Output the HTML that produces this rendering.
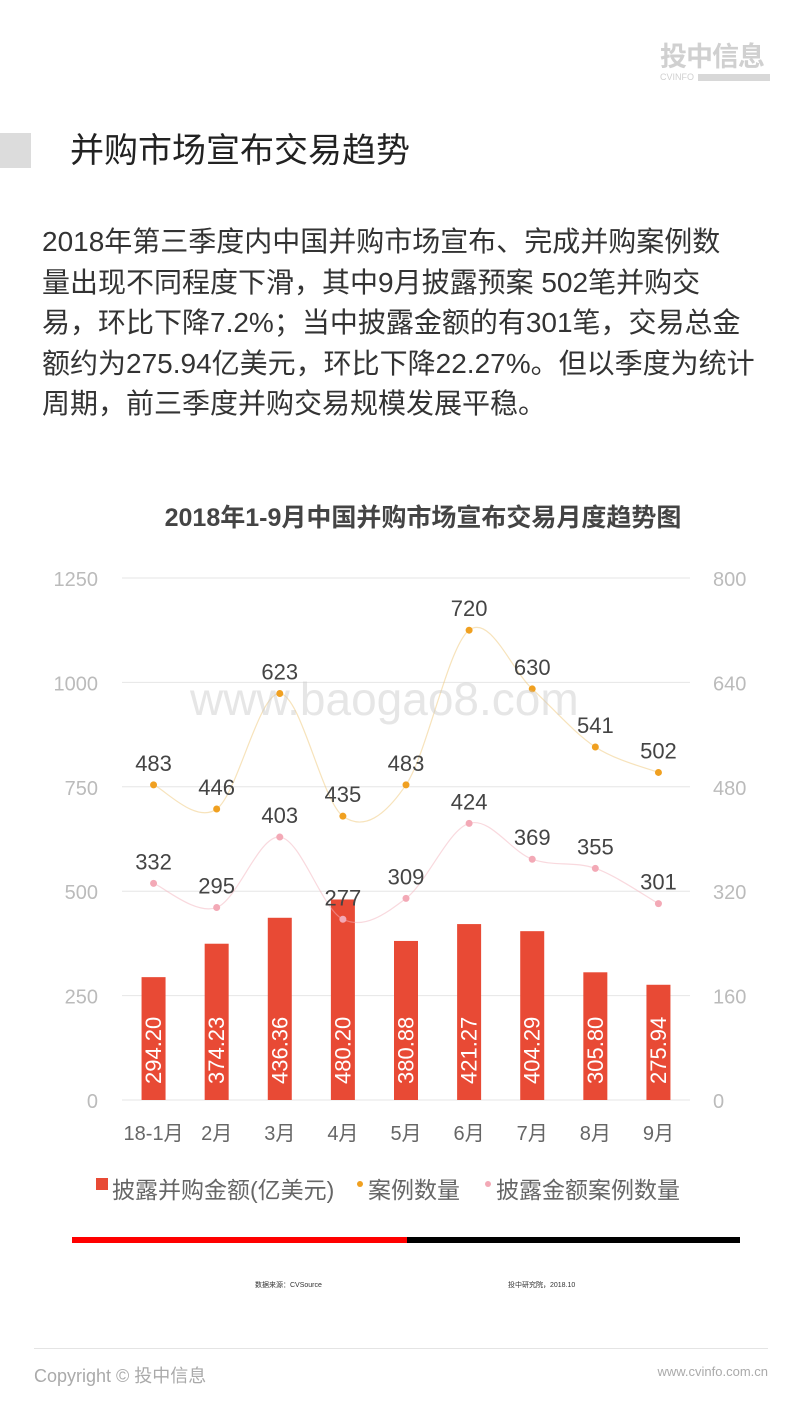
<!DOCTYPE html>
<html><head><meta charset="utf-8"><style>
body{margin:0;width:800px;height:1422px;background:#fff;font-family:"Liberation Sans","Noto Sans CJK SC",sans-serif;position:relative;overflow:hidden}
.abs{position:absolute}
</style></head><body>
<div class="abs" style="left:660px;top:42px;width:110px;color:#d0d0d0">
<div style="font-size:27px;font-weight:bold;line-height:30px;letter-spacing:-1px">投中信息</div>
<div style="font-size:9px;line-height:10px;display:flex;align-items:center">CVINFO<span style="display:inline-block;flex:1;height:7px;background:#d8d8d8;margin-left:4px"></span></div>
</div>
<div class="abs" style="left:0;top:133px;width:31px;height:35px;background:#dcdcdc"></div>
<div class="abs" style="left:70px;top:130px;font-size:34px;color:#222;line-height:42px">并购市场宣布交易趋势</div>
<div class="abs" style="left:42px;top:222px;width:740px;font-size:28px;line-height:40.5px;color:#333;white-space:nowrap">2018年第三季度内中国并购市场宣布、完成并购案例数<br>量出现不同程度下滑，其中9月披露预案 502笔并购交<br>易，环比下降7.2%；当中披露金额的有301笔，交易总金<br>额约为275.94亿美元，环比下降22.27%。但以季度为统计<br>周期，前三季度并购交易规模发展平稳。</div>
<div class="abs" style="left:0;width:846px;text-align:center;top:498px;font-size:25px;font-weight:bold;color:#444">2018年1-9月中国并购市场宣布交易月度趋势图</div>
<svg class="abs" style="left:0;top:0" width="800" height="1422" id="chart"></svg>
<div class="abs" style="left:190px;top:672px;font-size:46px;color:rgba(200,200,200,0.45)">www.baogao8.com</div>
<div class="abs" style="left:72px;top:1237px;width:335px;height:6px;background:#f00"></div>
<div class="abs" style="left:407px;top:1237px;width:333px;height:6px;background:#000"></div>
<div class="abs" style="left:255px;top:1280px;font-size:7px;color:#333">数据来源：CVSource</div>
<div class="abs" style="left:508px;top:1280px;font-size:7px;color:#333">投中研究院，2018.10</div>
<div class="abs" style="left:34px;top:1348px;width:734px;height:1px;background:#e4e4e4"></div>
<div class="abs" style="left:34px;top:1362px;font-size:18px;color:#aaa">Copyright © 投中信息</div>
<div class="abs" style="right:32px;top:1364px;font-size:13px;color:#aaa">www.cvinfo.com.cn</div>
<script>
const categories=["18-1月","2月","3月","4月","5月","6月","7月","8月","9月"];
const amounts=[294.20,374.23,436.36,480.20,380.88,421.27,404.29,305.80,275.94];
const cases=[483,446,623,435,483,720,630,541,502];
const disclosed=[332,295,403,277,309,424,369,355,301];
const leftTicks=[0,250,500,750,1000,1250];
const rightTicks=[0,160,320,480,640,800];
const svg=document.getElementById('chart');const NS='http://www.w3.org/2000/svg';
const y0=1100,h=522,x0=122,x1=690;
const yL=v=>y0-v/1250*h, yR=v=>y0-v/800*h;
const xC=i=>x0+(x1-x0)/9*(i+0.5);
function mk(t,a,p){const e=document.createElementNS(NS,t);for(const k in a)e.setAttribute(k,a[k]);(p||svg).appendChild(e);return e;}
leftTicks.forEach((v,i)=>{
 const l=mk('line',{x1:x0,x2:x1,y1:yL(v),y2:yL(v),stroke:'#e6e6e6','stroke-width':1});
 
 
 const t=mk('text',{x:98,y:yL(v)+8,'text-anchor':'end','font-size':20,fill:'#bbb'});t.textContent=v;
 
 
 const r=mk('text',{x:713,y:yR(rightTicks[i])+8,'font-size':20,fill:'#bbb'});r.textContent=rightTicks[i];
 
 
});
function smooth(pts){let d='M'+pts[0][0]+','+pts[0][1];for(let i=0;i<pts.length-1;i++){const p0=pts[i-1]||pts[i],p1=pts[i],p2=pts[i+1],p3=pts[i+2]||p2;const c1=[p1[0]+(p2[0]-p0[0])/6,p1[1]+(p2[1]-p0[1])/6],c2=[p2[0]-(p3[0]-p1[0])/6,p2[1]-(p3[1]-p1[1])/6];d+=` C${c1} ${c2} ${p2}`;}return d;}
categories.forEach((c,i)=>{
 const b=mk('rect',{x:xC(i)-12,y:yL(amounts[i]),width:24,height:y0-yL(amounts[i]),fill:'#e84a35'});
 
 
 const cx=xC(i),cy=y0-16;
 const t=mk('text',{x:cx,y:cy,transform:`rotate(-90 ${cx} ${cy})`,'font-size':22,fill:'#fff','dominant-baseline':'central'});t.textContent=amounts[i].toFixed(2);
 
 
 const xl=mk('text',{x:cx,y:1140,'text-anchor':'middle','font-size':20,fill:'#666'});xl.textContent=c;
 
 
});
[[cases,'#f0a020','rgba(240,200,120,0.5)','case'],[disclosed,'#f3a9b6','rgba(243,180,190,0.5)','disclosed']].forEach(([arr,col,lc,nm])=>{
 const pts=arr.map((v,i)=>[xC(i),yR(v)]);
 const p=mk('path',{d:smooth(pts),fill:'none',stroke:lc,'stroke-width':1.2});
 
 
 pts.forEach((q,i)=>{
  const d=mk('circle',{cx:q[0],cy:q[1],r:3.5,fill:col});
  
  
  const t=mk('text',{x:q[0],y:q[1]-14,'text-anchor':'middle','font-size':22,fill:'#444'});t.textContent=arr[i];
  
  
 });
});
const lg=[['rect','#e84a35','披露并购金额(亿美元)',96],['dot','#f0a020','案例数量',360],['dot','#f3a9b6','披露金额案例数量',488]];
lg.forEach(([k,c,txt,x])=>{
 if(k==='rect')mk('rect',{x:x,y:1178,width:12,height:12,fill:c});else mk('circle',{cx:x,cy:1184,r:3,fill:c});
 const t=mk('text',{x:x+(k==='rect'?16:8),y:1198,'font-size':23,fill:'#666'});t.textContent=txt;
 
 
});
</script>
</body></html>
